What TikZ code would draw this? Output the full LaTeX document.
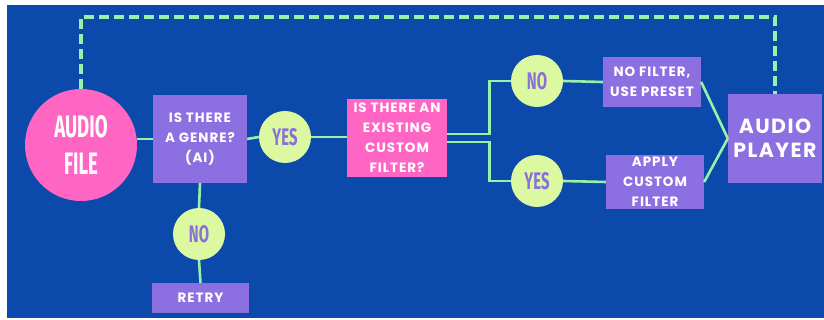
\documentclass[tikz,border=0pt]{standalone}
\usepackage{fontspec}
\usepackage{graphicx}
\setmainfont{Poppins}
\newfontfamily\boxfont[LetterSpace=7]{Poppins}
\newfontfamily\condfont{Fira Sans}
\definecolor{bgblue}{HTML}{0B4AAB}
\definecolor{hotpink}{HTML}{FF66C4}
\definecolor{boxpurple}{HTML}{8C6FE0}
\definecolor{limegreen}{HTML}{DCF8A0}
\definecolor{mintline}{HTML}{9AF0A8}
\definecolor{labelpurple}{HTML}{8A6FD9}
\newcommand{\narrow}[2]{\scalebox{#1}[1]{#2}}
\begin{document}
\begin{tikzpicture}[x=1pt,y=-1pt,
  box/.style={fill=boxpurple,text=white,align=center,inner sep=0pt,
    font=\boxfont\bfseries\fontsize{13.5}{20}\selectfont},
  pinkbox/.style={box,fill=hotpink},
  answer/.style={circle,fill=limegreen,text=labelpurple,inner sep=0pt,
    minimum size=52pt,font=\condfont\bfseries\fontsize{24}{24}\selectfont},
  link/.style={draw=mintline,line width=2.6pt},
  backlink/.style={draw=mintline,line width=3.6pt,dash pattern=on 10pt off 5pt}]
  \useasboundingbox (0,0) rectangle (824,320);
  \fill[white] (0,0) rectangle (824,320);
  \fill[bgblue] (7,5) rectangle (824,318);

  % start
  \node[circle,fill=hotpink,text=white,inner sep=0pt,minimum size=112pt,
    font=\condfont\bfseries\fontsize{31}{37}\selectfont]
    (audio) at (81,145) {\narrow{0.6}{\parbox{90pt}{\centering AUDIO\\FILE}}};
  \node[box,minimum width=94pt,minimum height=88pt] (genre) at (200,139)
    {IS THERE\\A GENRE?\\(AI)};
  \node[answer] (yes1) at (285,137) {\narrow{0.62}{YES}};
  \node[answer] (no1) at (199,234) {\narrow{0.62}{NO}};
  \node[box,minimum width=97pt,minimum height=30pt] (retry) at (200.5,298) {RETRY};
  \node[pinkbox,minimum width=100pt,minimum height=78pt] (custom) at (397,138)
    {IS THERE AN\\EXISTING\\CUSTOM\\FILTER?};

  % branches
  \node[answer] (no2) at (537,81) {\narrow{0.62}{NO}};
  \node[answer] (yes2) at (537,181) {\narrow{0.62}{YES}};
  \node[box,minimum width=98pt,minimum height=50pt] (preset) at (652,82)
    {NO FILTER,\\USE PRESET};
  \node[box,minimum width=98pt,minimum height=54pt] (apply) at (655,182)
    {APPLY\\CUSTOM\\FILTER};
  \node[box,minimum width=94pt,minimum height=89pt,
    font=\boxfont\bfseries\fontsize{20.5}{24}\selectfont] (player) at (775,138.5)
    {AUDIO\\PLAYER};

  \coordinate (top) at (400,17);
  \draw[backlink] (audio.north) |- (top) -| (player.north);

  \draw[link] (genre.west) -- (audio.east |- genre.west);
  \draw[link] (genre.east) -- (yes1.west);
  \draw[link] (yes1.east) -- (custom.west |- yes1.east);
  \draw[link] (genre.south) -- (no1.north);
  \draw[link] (no1.south) -- (retry.north);
  \draw[link] ([yshift=4pt]custom.east) -- ++(42,0) |- (no2.west);
  \draw[link] ([yshift=-4pt]custom.east) -- ++(42,0) |- (yes2.west);
  \draw[link] (no2.east) -- (preset.west);
  \draw[link] (yes2.east) -- (apply.west);
  \draw[link] (preset.east) -- (player.west);
  \draw[link] (apply.east) -- (player.west);
\end{tikzpicture}
\end{document}
